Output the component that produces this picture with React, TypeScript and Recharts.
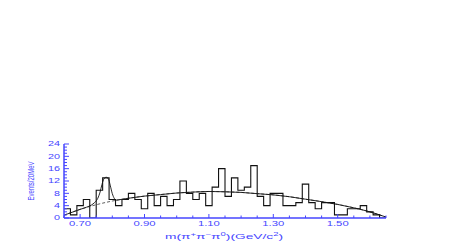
import { ComposedChart, Line, XAxis, YAxis } from 'recharts';

const BLUE = '#4646ff';
const FONT = '"Liberation Sans", Arial, sans-serif';

// m(3pi) histogram, 20 MeV bins starting at 0.65 GeV
const BIN_START = 0.65;
const BIN_WIDTH = 0.02;
const counts = [
  3, 1, 4, 6, 0, 9, 13, 6, 4, 6,
  8, 6, 3, 8, 4, 7, 4, 6, 12, 8,
  6, 8, 4, 10, 16, 7, 13, 9, 10, 17,
  7, 4, 8, 8, 4, 4, 5, 11, 5, 3,
  5, 5, 1, 1, 3, 3, 4, 2, 1, 0,
];

// total fit (signal + background)
const fitMass = [
  0.65, 0.7, 0.72, 0.735, 0.745, 0.755, 0.762, 0.768, 0.774, 0.781,
  0.788, 0.794, 0.8, 0.806, 0.812, 0.82, 0.85, 0.9, 0.95, 1.0,
  1.05, 1.1, 1.15, 1.2, 1.25, 1.3, 1.35, 1.4, 1.45, 1.5,
  1.55, 1.6, 1.65,
];
const fitValue = [
  0.9, 2.8, 3.5, 4.2, 5.0, 6.4, 8.4, 10.9, 12.7, 13.2,
  12.7, 10.4, 7.9, 6.4, 5.8, 5.9, 6.4, 7.1, 7.6, 8.1,
  8.4, 8.6, 8.5, 8.3, 7.9, 7.5, 6.9, 6.1, 5.3, 4.4,
  3.3, 2.0, 0.3,
];

// background only
const bkgMass = [
  0.65, 0.7, 0.75, 0.8, 0.85, 0.9, 0.95, 1.0, 1.05, 1.1,
  1.15, 1.2, 1.25, 1.3, 1.35, 1.4, 1.45, 1.5, 1.55, 1.6, 1.65,
];
const bkgValue = [
  0.9, 2.8, 4.3, 5.5, 6.4, 7.1, 7.6, 8.1, 8.4, 8.6,
  8.5, 8.3, 7.9, 7.5, 6.9, 6.1, 5.3, 4.4, 3.3, 2.0, 0.3,
];

const xMajorTicks = [0.7, 0.9, 1.1, 1.3, 1.5];
const xMinorTicks = [0.65, 0.75, 0.8, 0.85, 0.95, 1.0, 1.05, 1.15, 1.2, 1.25, 1.35, 1.4, 1.45, 1.55, 1.6, 1.65];
const yMajorTicks = [0, 4, 8, 12, 16, 20, 24];
const yMinorTicks = [1, 2, 3, 5, 6, 7, 9, 10, 11, 13, 14, 15, 17, 18, 19, 21, 22, 23];

const histData = counts.map((c, i) => ({ x: BIN_START + i * BIN_WIDTH, y: c }));
histData.push({ x: BIN_START + counts.length * BIN_WIDTH, y: counts[counts.length - 1] });
const fitData = fitMass.map((m, i) => ({ x: m, y: fitValue[i] }));
const bkgData = bkgMass.map((m, i) => ({ x: m, y: bkgValue[i] }));

const xTicks = [...xMajorTicks, ...xMinorTicks].sort((a, b) => a - b);
const yTicks = [...yMajorTicks, ...yMinorTicks].sort((a, b) => a - b);

const isMajor = (list: number[], v: number) => list.some((t) => Math.abs(t - v) < 1e-6);

function XTick(props: any) {
  const { x, y, payload, side } = props;
  const major = isMajor(xMajorTicks, payload.value);
  const len = major ? 4 : 2.5;
  const dir = side === 'top' ? 1 : -1;
  return (
    <g>
      <line x1={x} y1={y} x2={x} y2={y + dir * len} stroke={BLUE} strokeWidth={1} />
      {major && side !== 'top' && (
        <text x={x} y={y + 8} textAnchor="middle" fontSize={6.5} fontFamily={FONT} fill={BLUE}
          textLength={22} lengthAdjust="spacingAndGlyphs">
          {payload.value.toFixed(2)}
        </text>
      )}
    </g>
  );
}

function YTick(props: any) {
  const { x, y, payload, side } = props;
  const major = isMajor(yMajorTicks, payload.value);
  const len = major ? 5 : 3;
  const dir = side === 'right' ? -1 : 1;
  const label = String(payload.value);
  return (
    <g>
      <line x1={x} y1={y} x2={x + dir * len} y2={y} stroke={BLUE} strokeWidth={1} />
      {major && side !== 'right' && (
        <text x={x - 4} y={y + 2.3} textAnchor="end" fontSize={6.5} fontFamily={FONT} fill={BLUE}
          textLength={label.length * 6} lengthAdjust="spacingAndGlyphs">
          {label}
        </text>
      )}
    </g>
  );
}

function XLabel() {
  return (
    <text x={224} y={239} textAnchor="middle" fontSize={8} fontFamily={FONT} fill={BLUE}
      textLength={118} lengthAdjust="spacingAndGlyphs">
      m(π<tspan fontSize={5.5} dy={-3}>+</tspan>
      <tspan dy={3}>π</tspan><tspan fontSize={5.5} dy={-3}>−</tspan>
      <tspan dy={3}>π</tspan><tspan fontSize={5.5} dy={-3}>0</tspan>
      <tspan dy={3}>)(GeV/c</tspan><tspan fontSize={5.5} dy={-3}>2</tspan>
      <tspan dy={3}>)</tspan>
    </text>
  );
}

function YLabel() {
  return (
    <text x={33.5} y={181} transform="rotate(-90, 33.5, 181)" textAnchor="middle" fontSize={8.5}
      fontFamily={FONT} fill={BLUE} textLength={39} lengthAdjust="spacingAndGlyphs">
      Events/20MeV
    </text>
  );
}

export default function App() {
  return (
    <div style={{ position: 'absolute', left: 0, top: 0, width: 463, height: 245, background: '#fff' }}>
      <ComposedChart width={463} height={245} margin={{ top: 144, right: 77, bottom: 0, left: 0 }}>
        <XAxis dataKey="x" type="number" domain={[0.65, 1.65]} ticks={xTicks} interval={0}
          allowDataOverflow height={27} tickSize={0} tickMargin={0} tickLine={false}
          axisLine={{ stroke: BLUE, strokeWidth: 1.5 }}
          tick={(p: any) => <XTick {...p} side="bottom" />} label={<XLabel />} />
        <XAxis xAxisId="top" orientation="top" type="number" domain={[0.65, 1.65]} ticks={xTicks}
          interval={0} height={0} tickSize={0} tickMargin={0} tickLine={false}
          axisLine={{ stroke: BLUE, strokeWidth: 1.5 }}
          tick={(p: any) => <XTick {...p} side="top" />} />
        <YAxis type="number" domain={[0, 24]} ticks={yTicks} interval={0} width={64}
          tickSize={0} tickMargin={0} tickLine={false} allowDataOverflow
          axisLine={{ stroke: BLUE, strokeWidth: 1.5 }}
          tick={(p: any) => <YTick {...p} side="left" />} label={<YLabel />} />
        <YAxis yAxisId="right" orientation="right" type="number" domain={[0, 24]} ticks={yTicks}
          interval={0} width={0} tickSize={0} tickMargin={0} tickLine={false}
          axisLine={{ stroke: BLUE, strokeWidth: 1.5 }}
          tick={(p: any) => <YTick {...p} side="right" />} />
        <Line data={histData} dataKey="y" type="stepAfter" stroke="#111" strokeWidth={1.1}
          dot={false} isAnimationActive={false} />
        <Line data={bkgData} dataKey="y" type="monotone" stroke="#333" strokeWidth={0.8}
          strokeDasharray="3 2" dot={false} isAnimationActive={false} />
        <Line data={fitData} dataKey="y" type="monotone" stroke="#111" strokeWidth={0.9}
          dot={false} isAnimationActive={false} />
      </ComposedChart>
    </div>
  );
}
